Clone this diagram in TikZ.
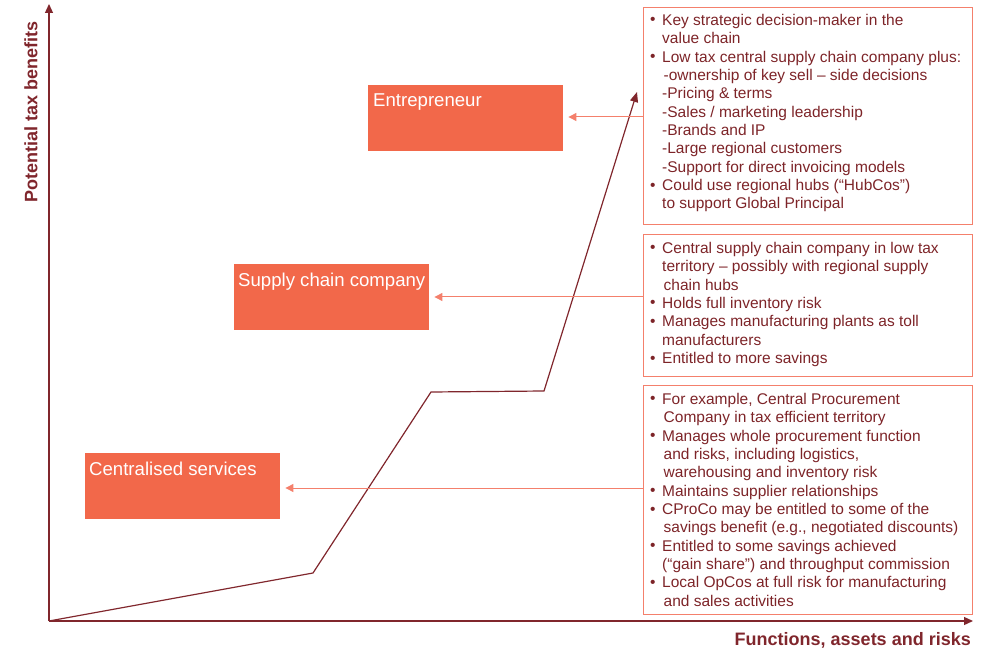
\documentclass[tikz,border=0pt]{standalone}
\usepackage{fontspec}
\setmainfont{Liberation Sans}
\usetikzlibrary{arrows.meta}
\definecolor{dred}{RGB}{128,38,44}
\definecolor{orng}{RGB}{242,104,74}
\definecolor{salm}{RGB}{244,128,108}
\definecolor{txtred}{RGB}{125,36,40}
\newcommand\bul{\makebox[12pt][l]{\raisebox{0.5pt}{•}}}
\newcommand\ind{\hspace*{12pt}}
\tikzset{
  axisline/.style={draw=dred, line width=1.3pt, -{Triangle[length=9pt,width=8pt]}},
  curveline/.style={draw=dred, line width=1.2pt, -{Triangle[length=10pt,width=8pt]}},
  orangebox/.style={fill=orng, draw=none, anchor=north west, inner sep=0pt},
  orangelabel/.style={text=white, font=\fontsize{18.6}{20}\selectfont, anchor=north west, inner sep=0pt},
  infobox/.style={draw=salm, line width=1.2pt, anchor=north west, inner sep=0pt},
  infotext/.style={text=txtred, font=\fontsize{15.5}{18.35}\selectfont, align=left, anchor=north west, inner sep=0pt},
  pointer/.style={draw=salm, line width=1pt, -{Triangle[length=8pt,width=8pt]}, shorten >=5pt},
  axislabel/.style={text=dred, font=\bfseries\fontsize{18}{20}\selectfont, inner sep=0pt}
}
\begin{document}
\begin{tikzpicture}[x=1pt,y=-1pt]
\useasboundingbox (0,0) rectangle (988,652);
% axes
\coordinate (O) at (49,621);
\coordinate (ytop) at (49,4);
\coordinate (xend) at (973,621);
\draw[axisline] (O) -- (ytop);
\draw[axisline] (O) -- (xend);
\node[axislabel, rotate=90] (ylab) at (31,112) {Potential tax benefits};
\node[axislabel, anchor=east] (xlab) at (971,640) {Functions, assets and risks};
% curve
\coordinate (c1) at (313,573);
\coordinate (c2) at (431,392);
\coordinate (c3) at (544,391);
\coordinate (c4) at (637,92);
\draw[curveline] (O) -- (c1) -- (c2) -- (c3) -- (c4);
% orange boxes
\node[orangebox, minimum width=195pt, minimum height=66pt] (ent) at (368,85) {};
\node[orangelabel] (entl) at (373,94) {Entrepreneur};
\node[orangebox, minimum width=195pt, minimum height=66pt] (scc) at (234,264) {};
\node[orangelabel] (sccl) at (238,273) {Supply chain company};
\node[orangebox, minimum width=195pt, minimum height=66pt] (cs) at (85,453) {};
\node[orangelabel] (csl) at (89,462) {Centralised services};
% info boxes
\node[infobox, minimum width=329pt, minimum height=217pt] (tb1) at (643,7) {};
\node[infobox, minimum width=329pt, minimum height=142pt] (tb2) at (643,234) {};
\node[infobox, minimum width=329pt, minimum height=229pt] (tb3) at (643,385) {};
\node[infotext] (t1) at (650,14) {\bul Key strategic decision-maker in the\\
\ind value chain\\
\bul Low tax central supply chain company plus:\\
\ind\hspace*{1.5pt}-ownership of key sell – side decisions\\
\ind -Pricing \& terms\\
\ind -Sales / marketing leadership\\
\ind -Brands and IP\\
\ind -Large regional customers\\
\ind -Support for direct invoicing models\\
\bul Could use regional hubs (“HubCos”)\\
\ind to support Global Principal};
\node[infotext] (t2) at (650,242) {\bul Central supply chain company in low tax\\
\ind territory – possibly with regional supply\\
\ind\hspace*{1.5pt}chain hubs\\
\bul Holds full inventory risk\\
\bul Manages manufacturing plants as toll\\
\ind manufacturers\\
\bul Entitled to more savings};
\node[infotext] (t3) at (650,393) {\bul For example, Central Procurement\\
\ind\hspace*{1.5pt}Company in tax efficient territory\\
\bul Manages whole procurement function\\
\ind\hspace*{1.5pt}and risks, including logistics,\\
\ind\hspace*{1.5pt}warehousing and inventory risk\\
\bul Maintains supplier relationships\\
\bul CProCo may be entitled to some of the\\
\ind\hspace*{1.5pt}savings benefit (e.g., negotiated discounts)\\
\bul Entitled to some savings achieved\\
\ind (“gain share”) and throughput commission\\
\bul Local OpCos at full risk for manufacturing\\
\ind\hspace*{1.5pt}and sales activities};
% pointers
\coordinate (a1) at (tb1.west |- 0,117);
\coordinate (a2) at (tb2.west |- 0,297);
\coordinate (a3) at (tb3.west |- 0,488);
\draw[pointer] (a1) -- (ent.east |- a1);
\draw[pointer] (a2) -- (scc.east |- a2);
\draw[pointer] (a3) -- (cs.east |- a3);
\end{tikzpicture}
\end{document}
